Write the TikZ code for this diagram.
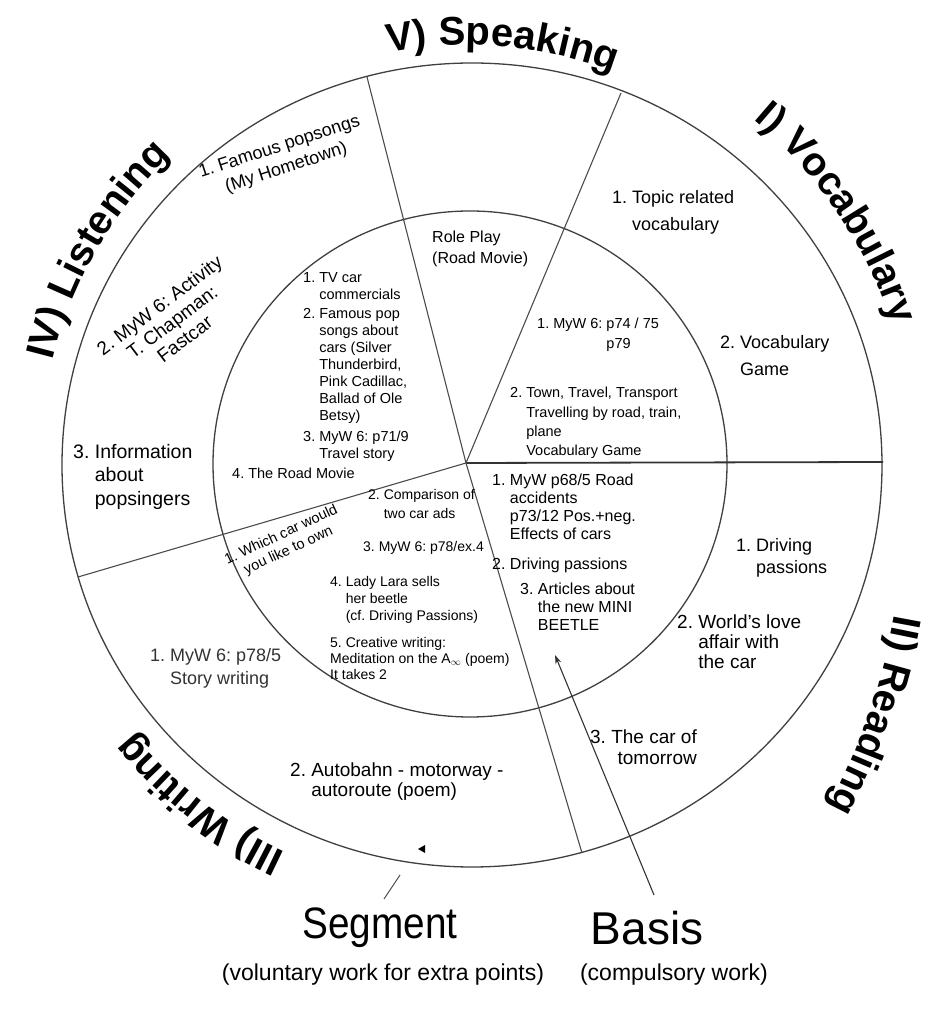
\documentclass[tikz,border=0pt]{standalone}
\usepackage{fontspec}
\setmainfont{Liberation Sans}
\newfontfamily\narrowsans{Liberation Sans}[FakeStretch=0.88]
\usetikzlibrary{decorations.text,arrows.meta,calc}
\newcommand\lblfont{\fontsize{40}{44}\selectfont\bfseries}
\frenchspacing
\begin{document}
\begin{tikzpicture}[x=1pt,y=1pt,
  radial/.style={draw=black!70, line width=1.1pt},
  ring/.style={draw=black!75, line width=1.3pt},
  intext/.style={font=\fontsize{14.5}{17}\selectfont, inner sep=0pt, align=left, anchor=north west},
  outtext/.style={font=\fontsize{18}{23}\selectfont, inner sep=0pt, align=left, anchor=north west},
  bigtext/.style={font=\narrowsans\fontsize{44}{48}\selectfont, inner sep=0pt},
  subtext/.style={font=\fontsize{23}{25}\selectfont, inner sep=0pt},
]
\useasboundingbox (0,0) rectangle (927,1013);
\fill[white] (0,0) rectangle (927,1013);

% centre and radial end points
\coordinate (C) at (466,550);
\coordinate (E1) at (883,551);
\coordinate (E2) at (621,920);
\coordinate (E3) at (367,936);
\coordinate (E4) at (78,436);
\coordinate (E5) at (582,160);

% circles
\draw[ring] (472,548) ellipse [x radius=410, y radius=402];
\draw[ring] (470,549) ellipse [x radius=257, y radius=253];

% radial lines
\draw[radial, line width=1.8pt, draw=black!80] (C) -- (E1);
\draw[radial] (C) -- (E2);
\draw[radial] (C) -- (E3);
\draw[radial] (C) -- (E4);
\draw[radial] (C) -- (E5);

% section titles along the circle
\path[decorate, decoration={text along path, text align=center, text={|\lblfont|V) Speaking}}]
  ($(C)+(125:418)$) arc[start angle=125, end angle=45, radius=418];
\path[decorate, decoration={text along path, text align=center, text={|\lblfont|I) Vocabulary}}]
  ($(C)+(78:448)$) arc[start angle=78, end angle=-10, radius=448];
\coordinate (RQ) at (250,513);
\path[decorate, decoration={text along path, text align=center, text={|\lblfont|II) Reading}}]
  ($(RQ)+(11:655)$) arc[start angle=11, end angle=-49, radius=655];
\path[decorate, decoration={text along path, text align=center, text={|\lblfont|III) Writing}}]
  ($(C)+(272:429)$) arc[start angle=272, end angle=192, radius=429];
\path[decorate, decoration={text along path, text align=center, text={|\lblfont|IV) Listening}}]
  ($(C)+(195:426)$) arc[start angle=195, end angle=105, radius=426];

% V) Speaking
\node[intext, font=\fontsize{16}{21}\selectfont] (roleplay) at (432,782) {Role Play\\(Road Movie)};

% I) Vocabulary
\node[outtext, font=\fontsize{18}{27}\selectfont] (vtopic) at (612,823) {1. Topic related\\\hphantom{1. }vocabulary};
\node[outtext, font=\fontsize{18}{27}\selectfont] (vgame) at (720,678) {2. Vocabulary\\\hphantom{2. }Game};
\node[intext, font=\fontsize{14.5}{20}\selectfont] (vmyw) at (537,695) {1. MyW 6: p74 / 75\\\hphantom{1. MyW 6: }p79};
\node[intext, font=\fontsize{14.5}{19.3}\selectfont] (vtown) at (510,626) {2. Town, Travel, Transport\\\hphantom{2. }Travelling by road, train,\\\hphantom{2. }plane\\\hphantom{2. }Vocabulary Game};

% IV) Listening
\node[font=\fontsize{18}{22}\selectfont, inner sep=0pt, align=center, rotate=18] (lpop) at (283,855) {1. Famous popsongs\\(My Hometown)};
\node[font=\fontsize{19}{21}\selectfont, inner sep=0pt, align=center, rotate=37] (lact) at (172,691) {2. MyW 6: Activity\\T. Chapman:\\Fastcar};
\node[outtext, font=\fontsize{19.5}{23.5}\selectfont] (linfo) at (73,569) {3. Information\\\hphantom{3. }about\\\hphantom{3. }popsingers};
\node[intext] (ltv) at (303,741) {1. TV car\\\hphantom{1. }commercials\\[2pt]2. Famous pop\\\hphantom{2. }songs about\\\hphantom{2. }cars (Silver\\\hphantom{2. }Thunderbird,\\\hphantom{2. }Pink Cadillac,\\\hphantom{2. }Ballad of Ole\\\hphantom{2. }Betsy)\\[4pt]3. MyW 6: p71/9\\\hphantom{3. }Travel story};
\node[intext] (lroad) at (232,545) {4. The Road Movie};

% III) Writing
\node[font=\fontsize{14.5}{17}\selectfont, inner sep=0pt, align=center, rotate=25] (wcar) at (285,470) {1. Which car would\\you like to own};
\node[intext, font=\fontsize{14}{19}\selectfont] (wcomp) at (368,524) {2. Comparison of\\\hphantom{2. }two car ads};
\node[intext, font=\fontsize{14}{17}\selectfont] (wmyw) at (363,472) {3. MyW 6: p78/ex.4};
\node[intext, font=\fontsize{14}{17}\selectfont] (wlady) at (330,437) {4. Lady Lara sells\\\hphantom{4. }her beetle\\\hphantom{4. }(cf. Driving Passions)};
\node[intext, font=\fontsize{14}{16}\selectfont] (wcreat) at (330,376) {5. Creative writing:\\Meditation on the A$_\infty$ (poem)\\It takes 2};
\node[outtext, text=black!80] (wstory) at (150,365) {1. MyW 6: p78/5\\\hphantom{1. }Story writing};
\node[outtext, font=\fontsize{19}{20}\selectfont] (wauto) at (290,250) {2. Autobahn - motorway -\\\hphantom{2. }autoroute (poem)};

% II) Reading
\node[intext, font=\fontsize{16}{18}\selectfont] (rmyw) at (492,539) {1. MyW p68/5 Road\\\hphantom{1. }accidents\\\hphantom{1. }p73/12 Pos.+neg.\\\hphantom{1. }Effects of cars};
\node[intext, font=\fontsize{16}{18}\selectfont] (rdrive) at (492,455) {2. Driving passions};
\node[intext, font=\fontsize{16}{18}\selectfont] (rart) at (520,430) {3. Articles about\\\hphantom{3. }the new MINI\\\hphantom{3. }BEETLE};
\node[outtext, font=\fontsize{18}{22}\selectfont] (rdrive2) at (736,475) {1. Driving\\\hphantom{1. }passions};
\node[outtext, font=\fontsize{19}{20}\selectfont] (rworld) at (677,398) {2. World's love\\\hphantom{2. }affair with\\\hphantom{2. }the car};
\node[outtext, font=\fontsize{19}{21}\selectfont, align=right, anchor=north east] (rtom) at (697,283) {3. The car of\\tomorrow};

% legend
\node[bigtext] (seg) at (380,85) {Segment};
\node[subtext] (segsub) at (383,38) {(voluntary work for extra points)};
\node[bigtext, font=\fontsize{46}{48}\selectfont] (basis) at (647,85) {Basis};
\node[subtext] (basissub) at (674,38) {(compulsory work)};

\coordinate (segA) at (384,114);
\coordinate (segB) at (400,138);
\draw[draw=black!75, line width=0.9pt] (segA) -- (segB);
\coordinate (segtip) at (418,164);
\fill[black] (segtip) -- ++(7,4) -- ++(0,-8) -- cycle;

\coordinate (basA) at (654,118);
\coordinate (basB) at (555,358);
\draw[draw=black!80, line width=1.1pt, -{Stealth[length=9pt,width=6pt]}] (basA) -- (basB);
\end{tikzpicture}
\end{document}
